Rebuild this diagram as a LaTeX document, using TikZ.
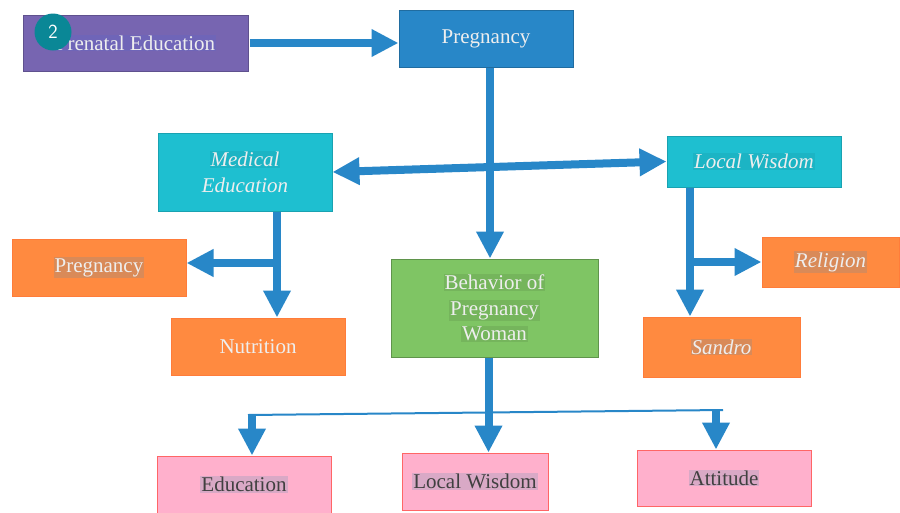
\documentclass[tikz,border=0pt]{standalone}
\usepackage{fontspec}
\setmainfont{Liberation Serif}
\usetikzlibrary{arrows.meta}
\definecolor{arrblue}{HTML}{2887C8}
\definecolor{purp}{HTML}{7765B1}
\definecolor{cyanbox}{HTML}{1EBFD0}
\definecolor{orangebox}{HTML}{FF8A40}
\definecolor{greenbox}{HTML}{7FC564}
\definecolor{pinkbox}{HTML}{FFB0CC}
\definecolor{light}{HTML}{EEEEEE}
\definecolor{badge}{HTML}{0A8796}
\newcommand{\hl}[1]{{\setlength{\fboxsep}{1pt}\colorbox{hlc}{#1}}}
\tikzset{
    box/.style={draw, line width=1pt, align=center, text=light, inner sep=0pt,
        font=\fontsize{21}{25.5}\selectfont},
    purpbox/.style={box, fill=purp, draw=purp!80!black,
        execute at begin node={\definecolor{hlc}{HTML}{6F65B8}}},
    bluebox/.style={box, fill=arrblue, draw=arrblue!80!black},
    cybox/.style={box, fill=cyanbox, draw=cyanbox!85!black,
        font=\fontsize{21}{25.5}\selectfont\itshape,
        execute at begin node={\colorlet{hlc}{cyanbox!94!black}}},
    orbox/.style={box, fill=orangebox, draw=orangebox!90!red,
        execute at begin node={\definecolor{hlc}{HTML}{D98A58}}},
    grbox/.style={box, fill=greenbox, draw=greenbox!75!black,
        execute at begin node={\colorlet{hlc}{greenbox!92!black}}},
    pkbox/.style={box, fill=pinkbox, draw=red!60, text=black!75,
        execute at begin node={\definecolor{hlc}{HTML}{D9A9C6}}},
    arr/.style={draw=arrblue, line width=8pt, -{Triangle[width=26pt,length=27pt]}},
}
\begin{document}
\begin{tikzpicture}[x=1pt,y=-1pt]
    \clip (0,0) rectangle (900,512);
    \fill[white] (0,0) rectangle (900,512);

    \node[purpbox, minimum width=225pt, minimum height=56pt] (pre) at (135.5,43) {\hl{Prenatal Education}};
    \node[bluebox, minimum width=174pt, minimum height=57pt] (preg) at (486,38.5) {Pregnancy};
    \node[cybox, minimum width=174pt, minimum height=78pt] (med) at (245,172) {\hl{Medical}\\Education};
    \node[cybox, minimum width=174pt, minimum height=51pt] (lw) at (754,161.5) {\hl{Local Wisdom}};
    \node[orbox, minimum width=174pt, minimum height=57pt] (pgo) at (99,267.5) {\hl{Pregnancy}};
    \node[orbox, minimum width=174pt, minimum height=57pt] (nut) at (258,346.5) {Nutrition};
    \node[grbox, minimum width=207pt, minimum height=98pt] (beh) at (494.5,308) {\hl{Behavior of}\\\hl{Pregnancy}\\\hl{Woman}};
    \node[orbox, minimum width=137pt, minimum height=50pt, font=\fontsize{21}{25.5}\selectfont\itshape] (rel) at (830.5,262) {\hl{Religion}};
    \node[orbox, minimum width=157pt, minimum height=60pt, font=\fontsize{21}{25.5}\selectfont\itshape] (san) at (721.5,347) {\hl{Sandro}};
    \node[pkbox, minimum width=174pt, minimum height=57pt] (edu) at (244,484.5) {\hl{Education}};
    \node[pkbox, minimum width=146pt, minimum height=57pt] (lwb) at (475,481.5) {\hl{Local Wisdom}};
    \node[pkbox, minimum width=174pt, minimum height=56pt] (att) at (724,478) {\hl{Attitude}};

    % badge
    \node[circle, fill=badge, minimum size=37pt, inner sep=0pt, text=white,
        font=\sffamily\fontsize{20}{20}\selectfont] (num) at (53,32) {2};

    \draw[arr] ([xshift=1pt]pre.east) -- (pre.east -| preg.west);
    \draw[arr] ([xshift=4pt]preg.south) -- ([xshift=4pt]preg.south |- beh.north);
    \draw[arr, {Triangle[width=26pt,length=27pt]}-{Triangle[width=26pt,length=27pt]}] (med.east) -- (lw.west);

    \coordinate (mdown) at ([xshift=32pt]med.south);
    \draw[arr] (mdown) -- (mdown |- nut.north);
    \draw[arr] ([xshift=4pt]mdown |- 0,263) -- (pgo.east |- 0,263);

    \coordinate (ldown) at ([xshift=-64pt]lw.south);
    \draw[arr] (ldown) -- (ldown |- san.north);
    \draw[arr] ([xshift=-4pt]ldown |- 0,262) -- (rel.west);

    \draw[arr] ([xshift=-6pt]beh.south) -- ([xshift=-6pt]beh.south |- lwb.north);

    \coordinate (tl) at (248,415);
    \coordinate (tr) at (723,410);
    \draw[arrblue, line width=2pt] (tl) -- (tr);
    \draw[arr] ([xshift=8pt]edu.north |- tl) -- ([xshift=8pt]edu.north);
    \draw[arr] ([xshift=-8pt]att.north |- tr) -- ([xshift=-8pt]att.north);
\end{tikzpicture}
\end{document}
